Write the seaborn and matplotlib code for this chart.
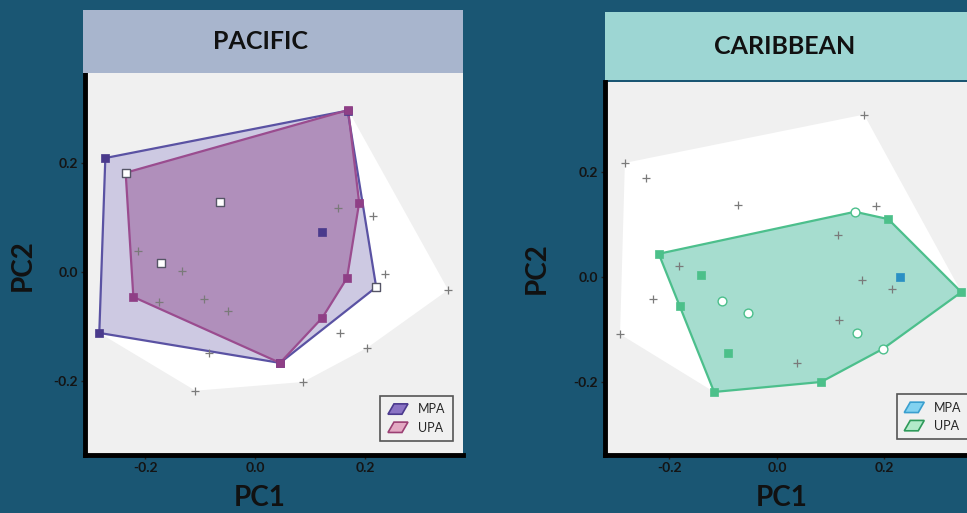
"""
PCA hulls for MPA vs UPA sites, Pacific and Caribbean panels.
"""

import matplotlib

matplotlib.use("Agg")
import matplotlib.pyplot as plt
import seaborn as sns
from matplotlib.patches import Patch, Polygon
from matplotlib.legend_handler import HandlerPatch

# ---- data ----
# Pacific
pac_mpa_x = [-0.273, -0.284, 0.122, 0.168, 0.045, 0.220, -0.172]
pac_mpa_y = [0.209, -0.112, 0.073, 0.296, -0.167, -0.028, 0.016]
pac_mpa_open = [False, False, False, False, False, True, True]

pac_upa_x = [-0.236, 0.169, 0.189, 0.167, 0.122, 0.045, -0.222, -0.065]
pac_upa_y = [0.182, 0.297, 0.127, -0.011, -0.084, -0.167, -0.046, 0.128]
pac_upa_open = [True, False, False, False, False, False, False, True]

pac_other_x = [0.151, 0.215, -0.213, -0.133, -0.175, -0.093, -0.049,
               0.236, 0.351, 0.155, 0.204, -0.085, 0.087, -0.109]
pac_other_y = [0.117, 0.103, 0.039, 0.002, -0.055, -0.050, -0.072,
               -0.004, -0.033, -0.112, -0.139, -0.149, -0.202, -0.218]

# Caribbean
car_mpa_x = [0.229]
car_mpa_y = [0.000]
car_mpa_open = [False]

car_upa_x = [-0.220, 0.207, 0.343, 0.082, -0.117, -0.181, -0.142, -0.091,
             0.145, 0.197, -0.102, -0.054, 0.149]
car_upa_y = [0.044, 0.110, -0.029, -0.200, -0.219, -0.055, 0.004, -0.145,
             0.124, -0.137, -0.046, -0.069, -0.107]
car_upa_open = [False] * 8 + [True] * 5

car_other_x = [0.162, -0.283, -0.244, -0.073, 0.184, 0.114, -0.182,
               0.158, 0.214, -0.231, -0.292, 0.115, 0.037]
car_other_y = [0.309, 0.217, 0.189, 0.137, 0.135, 0.080, 0.021,
               -0.006, -0.023, -0.042, -0.109, -0.082, -0.164]

ticks = [-0.2, 0.0, 0.2]
tick_labels = ["-0.2", "0.0", "0.2"]

BG = "#1a5673"
FACE = "#f0f0f0"


def convex_hull(xs, ys):
    pts = sorted(set(zip(xs, ys)))
    if len(pts) < 3:
        return pts

    def cross(o, a, b):
        return (a[0] - o[0]) * (b[1] - o[1]) - (a[1] - o[1]) * (b[0] - o[0])

    lower, upper = [], []
    for p in pts:
        while len(lower) >= 2 and cross(lower[-2], lower[-1], p) <= 0:
            lower.pop()
        lower.append(p)
    for p in reversed(pts):
        while len(upper) >= 2 and cross(upper[-2], upper[-1], p) <= 0:
            upper.pop()
        upper.append(p)
    return lower[:-1] + upper[:-1]


class HandlerSkew(HandlerPatch):
    """Slanted parallelogram legend key."""

    def create_artists(self, legend, orig_handle, xdescent, ydescent,
                       width, height, fontsize, trans):
        x0, y0 = -xdescent, -ydescent
        verts = [(x0 + 0.3 * width, y0 + height), (x0 + width, y0 + height),
                 (x0 + 0.7 * width, y0), (x0, y0)]
        p = Polygon(verts, closed=True)
        self.update_prop(p, orig_handle, legend)
        p.set_linewidth(1.2)
        p.set_transform(trans)
        return [p]


def draw_panel(ax, mpa, upa, other, style):
    mx, my, mopen = mpa
    ux, uy, uopen = upa
    ox, oy = other

    ax.set_facecolor(FACE)

    # white hull of every sample
    allx = mx + ux + ox
    ally = my + uy + oy
    ax.fill(*zip(*convex_hull(allx, ally)), color="white", lw=0, zorder=1)

    # group hulls
    for xs, ys, key in [(mx, my, "mpa"), (ux, uy, "upa")]:
        h = convex_hull(xs, ys)
        if len(h) >= 3:
            ax.fill(*zip(*h), facecolor=style[key + "_fill"],
                    alpha=style[key + "_alpha"], lw=0, zorder=2)
            ax.fill(*zip(*h), facecolor="none", edgecolor=style[key + "_line"],
                    lw=1.6, zorder=3)

    # background samples
    sns.scatterplot(x=ox, y=oy, marker="+", color="#7a7a7a", s=30,
                    linewidth=0.9, ax=ax, zorder=4)

    # group points
    for xs, ys, opn, key in [(mx, my, mopen, "mpa"), (ux, uy, uopen, "upa")]:
        fx = [x for x, o in zip(xs, opn) if not o]
        fy = [y for y, o in zip(ys, opn) if not o]
        wx = [x for x, o in zip(xs, opn) if o]
        wy = [y for y, o in zip(ys, opn) if o]
        sns.scatterplot(x=fx, y=fy, marker="s", color=style[key + "_pt"], s=38,
                        edgecolor=style[key + "_pt"], linewidth=0.5, ax=ax,
                        zorder=5)
        if wx:
            sns.scatterplot(x=wx, y=wy, marker=style["open_marker"],
                            color="white", s=40, edgecolor=style["open_edge"],
                            linewidth=1.0, ax=ax, zorder=6)

    ax.set_xlim(style["xlim"])
    ax.set_ylim(style["ylim"])
    ax.set_xticks(ticks)
    ax.set_xticklabels(tick_labels, fontweight="bold", fontsize=10)
    ax.set_yticks(ticks)
    ax.set_yticklabels(tick_labels, fontweight="bold", fontsize=10)
    ax.tick_params(axis="both", length=3, width=1, color="#222222",
                   labelcolor="#141414", pad=2)

    for side in ["top", "right"]:
        ax.spines[side].set_visible(False)
    for side in ["left", "bottom"]:
        ax.spines[side].set_color("black")
        ax.spines[side].set_linewidth(3.5)

    ax.set_xlabel("PC1", fontsize=20, fontweight="bold", color="#111111",
                  va="center")
    ax.set_ylabel("PC2", fontsize=20, fontweight="bold", color="#111111",
                  va="center")
    ax.xaxis.set_label_coords(*style["xlab_pos"])
    ax.yaxis.set_label_coords(*style["ylab_pos"])

    handles = [
        Patch(facecolor=style["leg_mpa"][0], edgecolor=style["leg_mpa"][1], label="MPA"),
        Patch(facecolor=style["leg_upa"][0], edgecolor=style["leg_upa"][1], label="UPA"),
    ]
    leg = ax.legend(handles=handles, loc="lower right",
                    bbox_to_anchor=style["leg_anchor"], fontsize=9,
                    frameon=True, fancybox=False, edgecolor="#555555",
                    framealpha=1, handlelength=1.6, handleheight=0.9,
                    borderpad=0.6, labelspacing=0.5,
                    handler_map={Patch: HandlerSkew()})
    leg.get_frame().set_facecolor(FACE)
    leg.get_frame().set_linewidth(1.2)
    leg.set_zorder(10)


def add_band(fig, rect, color, text, tx):
    band = fig.add_axes(rect)
    band.set_facecolor(color)
    band.set_xticks([])
    band.set_yticks([])
    for s in band.spines.values():
        s.set_visible(False)
    band.text(tx, 0.5, text, ha="center", va="center", fontsize=18,
              fontweight="bold", color="#111111", transform=band.transAxes)


if __name__ == "__main__":
    sns.set_theme(style="ticks")
    plt.rcParams["font.family"] = ["Lato", "DejaVu Sans"]

    W, H = 967, 513
    fig = plt.figure(figsize=(W / 100, H / 100), dpi=100)
    fig.patch.set_facecolor(BG)

    pac_style = dict(
        mpa_fill="#5a4fa0", mpa_alpha=0.30, mpa_line="#5a52a3", mpa_pt="#4a3a8c",
        upa_fill="#8e4a8c", upa_alpha=0.45, upa_line="#9a4c8f", upa_pt="#8f3f86",
        open_marker="s", open_edge="#555566",
        xlim=(-0.31, 0.378), ylim=(-0.336, 0.365),
        xlab_pos=(0.463, -0.113), ylab_pos=(-0.164, 0.497),
        leg_mpa=("#8a73c4", "#4b3a8e"), leg_upa=("#e3a9c3", "#9b3f73"),
        leg_anchor=(0.99, 0.02),
    )
    car_style = dict(
        mpa_fill="#2a90c4", mpa_alpha=0.45, mpa_line="#2a90c4", mpa_pt="#2a90c4",
        upa_fill="#3bb595", upa_alpha=0.45, upa_line="#4cbf8c", upa_pt="#4cc08a",
        open_marker="o", open_edge="#4cbf8c",
        xlim=(-0.32, 0.387), ylim=(-0.339, 0.371),
        xlab_pos=(0.466, -0.115), ylab_pos=(-0.179, 0.501),
        leg_mpa=("#82d2f0", "#3a9fcf"), leg_upa=("#b2eac9", "#2e9a5a"),
        leg_anchor=(0.975, 0.025),
    )

    ax1 = fig.add_axes([85 / W, 1 - 455 / H, 378 / W, 382 / H])
    draw_panel(ax1, (pac_mpa_x, pac_mpa_y, pac_mpa_open),
               (pac_upa_x, pac_upa_y, pac_upa_open),
               (pac_other_x, pac_other_y), pac_style)

    ax2 = fig.add_axes([605 / W, 1 - 455 / H, 380 / W, 373 / H])
    draw_panel(ax2, (car_mpa_x, car_mpa_y, car_mpa_open),
               (car_upa_x, car_upa_y, car_upa_open),
               (car_other_x, car_other_y), car_style)

    add_band(fig, [83 / W, 1 - 73 / H, 380 / W, 63 / H], "#a8b5cd", "PACIFIC", 0.466)
    add_band(fig, [605 / W, 1 - 80 / H, 380 / W, 68 / H], "#9dd6d3", "CARIBBEAN", 0.474)

    fig.savefig("out.png", dpi=100, facecolor=BG)
    plt.close(fig)
